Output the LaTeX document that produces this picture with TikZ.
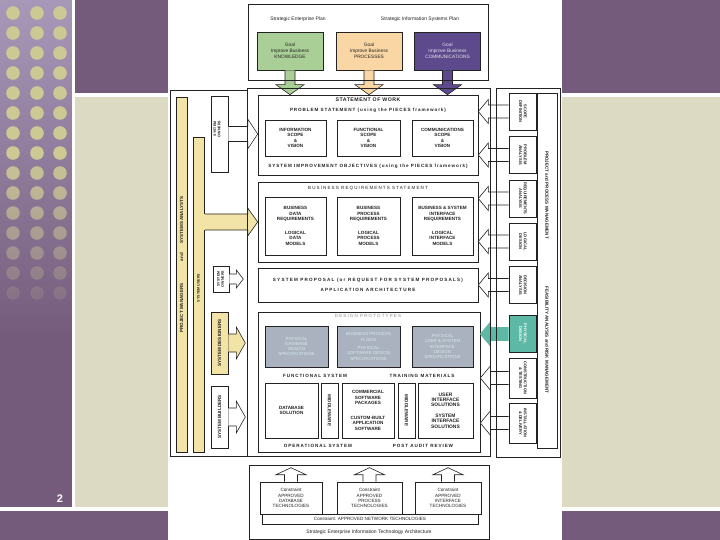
\documentclass[tikz,border=0pt]{standalone}
\usepackage{fontspec}
\setmainfont{Liberation Sans}
\usetikzlibrary{calc}
\definecolor{ink}{HTML}{222222}
\definecolor{slidepurple}{HTML}{745B7B}
\definecolor{slidebeige}{HTML}{DDDAC3}
\definecolor{striptop}{HTML}{A898B8}
\definecolor{dotkhaki}{HTML}{CDC995}
\definecolor{goalgreen}{HTML}{A9CF97}
\definecolor{goalorange}{HTML}{FAD6A5}
\definecolor{goalpurple}{HTML}{5D4A8C}
\definecolor{roleyellow}{HTML}{F2E4A6}
\definecolor{phaseteal}{HTML}{5DB8A5}
\definecolor{protogray}{HTML}{A9B2BE}
\definecolor{prototext}{HTML}{D9E9ED}

% block arrow: [style]{from}{to}{half shaft}{half head}{head length}
\newcommand\blockarrow[6][]{%
  \coordinate (ba-h) at ($(#3)!#6!(#2)$);
  \path[#1] ($(#2)!#4!90:(#3)$) -- ($(ba-h)!#4!-90:(#2)$)
    -- ($(ba-h)!#5!-90:(#2)$) -- (#3) -- ($(ba-h)!#5!90:(#2)$)
    -- ($(ba-h)!#4!90:(#2)$) -- ($(#2)!#4!-90:(#3)$);}
\newcommand\vlabel[2]{\rotatebox{#1}{\begin{tabular}{@{}c@{}}#2\end{tabular}}}

\begin{document}
\begin{tikzpicture}[x=1pt,y=-1pt,line width=0.6pt,text=ink,
  font=\fontsize{5}{5.8}\selectfont,
  frame/.style={draw=ink,line width=0.7pt},
  box/.style={draw=ink,fill=white,inner sep=0pt,align=center,
    font=\bfseries\fontsize{4.6}{5.6}\selectfont},
  goal/.style={box,font=\fontsize{4.8}{5.8}\selectfont,minimum width=66pt,minimum height=38pt},
  sub/.style={box,minimum height=36pt},
  proto/.style={box,fill=protogray,text=prototext,font=\fontsize{4.4}{5.3}\selectfont,
    minimum height=41pt},
  phase/.style={box,font=\bfseries\fontsize{4}{4.9}\selectfont,minimum width=27pt,minimum height=37pt},
  role/.style={box,fill=roleyellow},
  spaced/.style={font=\fontsize{4.5}{5}\selectfont\addfontfeature{LetterSpace=25}},
  spacedbf/.style={font=\bfseries\fontsize{4.6}{5}\selectfont\addfontfeature{LetterSpace=20}},
  vtext/.style={font=\bfseries\fontsize{4.5}{5}\selectfont},
  hollow/.style={draw=ink,fill=white,line width=0.6pt}]
  \useasboundingbox (0,0) rectangle (720,540);

  % slide background
  \fill[slidepurple] (0,0) rectangle (720,540);
  \shade[top color=striptop,bottom color=slidepurple] (0,0) rectangle (72,340);
  \foreach \row in {0,...,14}{
    \pgfmathsetmacro\dotop{\row<8 ? 1 : 1-(\row-7)*0.12}
    \foreach \col in {13,37,60}
      \fill[dotkhaki,opacity=\dotop] (\col,{13+20*\row}) circle (6.8);
  }
  \fill[white] (72,0) rectangle (75,507);
  \fill[white] (75,93) rectangle (720,97);
  \fill[slidebeige] (75,97) rectangle (720,507);
  \fill[white] (0,507) rectangle (720,511);
  \node[text=white,font=\bfseries\fontsize{11}{11}\selectfont] (slideNo) at (60,499) {2};
  \fill[white] (168,0) rectangle (562,540);

  % plans and goals
  \node (entPlan) at (298,19) {Strategic Enterprise Plan};
  \node (isPlan) at (420,19) {Strategic Information Systems Plan};
  \node[goal,fill=goalgreen] (goalKnow) at (290,51) {Goal\\Improve Business\\KNOWLEDGE};
  \node[goal,fill=goalorange] (goalProc) at (369,51) {Goal\\Improve Business\\PROCESSES};
  \node[goal,fill=goalpurple,text=white!85!goalpurple] (goalComm) at (447.5,51)
    {Goal\\Improve Business\\COMMUNICATIONS};

  % statement of work
  \node[box,minimum width=220pt,minimum height=80pt] (sow) at (368,135) {};
  \node[font=\bfseries\fontsize{5.2}{6}\selectfont\addfontfeature{LetterSpace=10}] (sowTitle)
    at (368,100) {STATEMENT OF WORK};
  \node[spacedbf] (probStmt) at (368,110) {PROBLEM STATEMENT (using the PIECES framework)};
  \node[sub,minimum width=61pt] (infoScope) at (295.5,138) {INFORMATION\\SCOPE\\\&\\VISION};
  \node[sub,minimum width=63pt] (funcScope) at (368.5,138) {FUNCTIONAL\\SCOPE\\\&\\VISION};
  \node[sub,minimum width=61pt] (commScope) at (442.5,138) {COMMUNICATIONS\\SCOPE\\\&\\VISION};
  \node[spacedbf] (sysObj) at (368,166) {SYSTEM IMPROVEMENT OBJECTIVES (using the PIECES framework)};

  % business requirements
  \node[box,minimum width=220pt,minimum height=80pt] (brs) at (368,222) {};
  \node[spaced] (brsTitle) at (368,188) {BUSINESS REQUIREMENTS STATEMENT};
  \node[sub,minimum width=61pt,minimum height=58pt] (dataReq) at (295.5,226)
    {BUSINESS\\DATA\\REQUIREMENTS\\[8pt]LOGICAL\\DATA\\MODELS};
  \node[sub,minimum width=63pt,minimum height=58pt] (procReq) at (368.5,226)
    {BUSINESS\\PROCESS\\REQUIREMENTS\\[8pt]LOGICAL\\PROCESS\\MODELS};
  \node[sub,minimum width=61pt,minimum height=58pt] (ifaceReq) at (442.5,226)
    {BUSINESS \& SYSTEM\\INTERFACE\\REQUIREMENTS\\[8pt]LOGICAL\\INTERFACE\\MODELS};

  % proposal
  \node[box,minimum width=220pt,minimum height=34pt,
        font=\bfseries\fontsize{4.6}{10}\selectfont\addfontfeature{LetterSpace=26}] (proposal)
    at (368,285) {SYSTEM PROPOSAL (or REQUEST FOR SYSTEM PROPOSALS)\\APPLICATION ARCHITECTURE};

  % design and construction
  \node[box,minimum width=222pt,minimum height=140pt] (design) at (369,382) {};
  \node[spaced,text=black!45] (protoTitle) at (368,316) {DESIGN PROTOTYPES};
  \node[proto,minimum width=63pt] (dbSpec) at (296.5,346.5)
    {PHYSICAL\\DATABASE\\DESIGN\\SPECIFICATIONS};
  \node[proto,minimum width=63pt] (swSpec) at (368.5,346.5)
    {BUSINESS PROCESS\\FLOWS\\[3pt]PHYSICAL\\SOFTWARE DESIGN\\SPECIFICATIONS};
  \node[proto,minimum width=61pt] (uiSpec) at (442.5,346.5)
    {PHYSICAL\\USER \& SYSTEM\\INTERFACE\\DESIGN\\SPECIFICATIONS};
  \node[spacedbf] (funcSys) at (315,376) {FUNCTIONAL SYSTEM};
  \node[spacedbf] (training) at (422,376) {TRAINING MATERIALS};
  \node[box,minimum width=53pt,minimum height=55pt] (dbSol) at (291.5,410.5) {DATABASE\\SOLUTION};
  \node[box,minimum width=17pt,minimum height=55pt] (mwLeft) at (329.5,410.5) {\rotatebox{-90}{MIDDLEWARE}};
  \node[box,minimum width=52pt,minimum height=55pt] (appSw) at (368,410.5)
    {COMMERCIAL\\SOFTWARE\\PACKAGES\\[9pt]CUSTOM-BUILT\\APPLICATION\\SOFTWARE};
  \node[box,minimum width=17pt,minimum height=55pt] (mwRight) at (406.5,410.5) {\rotatebox{-90}{MIDDLEWARE}};
  \node[box,minimum width=55pt,minimum height=55pt,font=\bfseries\fontsize{4.9}{5.4}\selectfont] (uiSol)
    at (445.5,410.5) {USER\\INTERFACE\\SOLUTIONS\\[5pt]SYSTEM\\INTERFACE\\SOLUTIONS};
  \node[spacedbf] (opSys) at (318,446) {OPERATIONAL SYSTEM};
  \node[spacedbf] (postAudit) at (423,446) {POST AUDIT REVIEW};

  % architecture
  \node[box,minimum width=240pt,minimum height=74pt] (eita) at (369,502) {};
  \node[box,minimum width=62pt,minimum height=32pt,font=\fontsize{4.6}{5.2}\selectfont] (dbTech)
    at (291,498) {Constraint\\APPROVED\\DATABASE\\TECHNOLOGIES};
  \node[box,minimum width=65pt,minimum height=32pt,font=\fontsize{4.6}{5.2}\selectfont] (procTech)
    at (369.5,498) {Constraint\\APPROVED\\PROCESS\\TECHNOLOGIES};
  \node[box,minimum width=66pt,minimum height=32pt,font=\fontsize{4.6}{5.2}\selectfont] (ifTech)
    at (448,498) {Constraint\\APPROVED\\INTERFACE\\TECHNOLOGIES};
  \node[box,minimum width=216pt,minimum height=10pt,font=\fontsize{4.6}{5.2}\selectfont] (netTech)
    at (370,519) {Constraint: APPROVED NETWORK TECHNOLOGIES};
  \node (eitaLabel) at (369,532) {Strategic Enterprise Information Technology Architecture};

  % people
  \node[role,minimum width=11pt,minimum height=355pt] (mgrBar) at (181.5,274.5) {};
  \node[role,minimum width=11pt,minimum height=315pt] (userBar) at (198.5,294.5) {};
  \node[vtext,rotate=90] (mgrText) at (181.5,308) {PROJECT MANAGERS};
  \node[vtext,rotate=90] (andText) at (181.5,257) {and};
  \node[vtext,rotate=90] (anaText) at (181.5,220) {SYSTEMS ANALYSTS};
  \node[vtext,rotate=90,font=\bfseries\fontsize{3.6}{4}\selectfont] (userText) at (198.5,288) {SYSTEM USERS};
  \node[box,minimum width=17pt,minimum height=76pt] (owners) at (219.5,134) {};
  \node[rotate=90,align=center,font=\bfseries\fontsize{3.6}{4.2}\selectfont] (ownersText)
    at (217,129) {SYSTEM\\OWNERS};
  \node[box,minimum width=16pt,minimum height=26pt,font=\bfseries\fontsize{3.6}{4.2}\selectfont] (ownersSmall)
    at (221,279) {\vlabel{90}{SYSTEM\\OWNERS}};
  \node[role,minimum width=17pt,minimum height=62pt] (designers) at (219.5,343) {\rotatebox{90}{SYSTEM DESIGNERS}};
  \node[box,minimum width=17pt,minimum height=62pt] (builders) at (219.5,417) {\rotatebox{90}{SYSTEM BUILDERS}};

  % phases
  \node[phase] (scopeDef) at (522.5,111.5) {\vlabel{-90}{SCOPE\\DEFINITION}};
  \node[phase] (probAn) at (522.5,155) {\vlabel{-90}{PROBLEM\\ANALYSIS}};
  \node[phase] (reqAn) at (522.5,198.5) {\vlabel{-90}{REQUIREMENTS\\ANALYSIS}};
  \node[phase] (logDes) at (522.5,241.5) {\vlabel{-90}{LOGICAL\\DESIGN}};
  \node[phase] (decAn) at (522.5,285) {\vlabel{-90}{DECISION\\ANALYSIS}};
  \node[phase,fill=phaseteal,text=white] (physDes) at (522.5,334) {\vlabel{-90}{PHYSICAL\\DESIGN}};
  \node[phase,minimum height=40pt] (construct) at (522.5,378) {\vlabel{-90}{CONSTRUCTION\\\& TESTING}};
  \node[phase,minimum height=40pt] (install) at (522.5,423) {\vlabel{-90}{INSTALLATION\\\& DELIVERY}};
  \node[box,minimum width=20pt,minimum height=355pt] (mgmt) at (547,270.5) {};
  \node[vtext,rotate=-90] (mgmtTop) at (547,195) {PROJECT and PROCESS MANAGEMENT};
  \node[vtext,rotate=-90] (mgmtBottom) at (547,340) {FEASIBILITY ANALYSIS and RISK MANAGEMENT};

  % goal arrows
  \coordinate (goalKnowTip) at (goalKnow.south |- sow.north);
  \coordinate (goalProcTip) at (goalProc.south |- sow.north);
  \coordinate (goalCommTip) at (goalComm.south |- sow.north);
  \blockarrow[fill=goalgreen,draw=ink]{goalKnow.south}{goalKnowTip}{5pt}{14pt}{10pt}
  \blockarrow[fill=goalorange,draw=ink]{goalProc.south}{goalProcTip}{5pt}{14pt}{10pt}
  \blockarrow[fill=goalpurple,draw=ink]{goalComm.south}{goalCommTip}{5pt}{14pt}{10pt}

  % people arrows
  \coordinate (ownersTip) at (owners.east -| sow.west);
  \blockarrow[hollow]{owners.east}{ownersTip}{7.5pt}{15pt}{10pt}
  \coordinate (userFoot) at (userBar.east |- brs.west);
  \blockarrow[fill=roleyellow,draw=ink]{userFoot}{brs.west}{8pt}{14pt}{10pt}
  \fill[roleyellow] ($(userFoot)+(-0.6,-7.6)$) rectangle ($(userFoot)+(0.6,7.6)$);
  \coordinate (ownersSmallTip) at ($(ownersSmall.east)+(14,0)$);
  \blockarrow[hollow]{ownersSmall.east}{ownersSmallTip}{5pt}{9pt}{7pt}
  \coordinate (designersTip) at ($(designers.east)+(17,0)$);
  \blockarrow[fill=roleyellow,draw=ink]{designers.east}{designersTip}{9pt}{16pt}{9pt}
  \coordinate (buildersTip) at ($(builders.east)+(17,0)$);
  \blockarrow[hollow]{builders.east}{buildersTip}{9pt}{16pt}{9pt}

  % phase arrows
  \coordinate (scopeTip) at (scopeDef.west -| sow.east);
  \coordinate (probTip) at (probAn.west -| sow.east);
  \coordinate (reqTip) at (reqAn.west -| brs.east);
  \coordinate (logTip) at (logDes.west -| brs.east);
  \coordinate (decTip) at (decAn.west -| proposal.east);
  \coordinate (physTip) at (physDes.west -| design.east);
  \coordinate (constructTip) at (construct.west -| design.east);
  \coordinate (installTip) at (install.west -| design.east);
  \blockarrow[hollow]{scopeDef.west}{scopeTip}{6.5pt}{12pt}{10pt}
  \blockarrow[hollow]{probAn.west}{probTip}{6.5pt}{12pt}{10pt}
  \blockarrow[hollow]{reqAn.west}{reqTip}{6.5pt}{12pt}{10pt}
  \blockarrow[hollow]{logDes.west}{logTip}{6.5pt}{12pt}{10pt}
  \blockarrow[hollow]{decAn.west}{decTip}{6.5pt}{12pt}{10pt}
  \blockarrow[fill=phaseteal,draw=phaseteal]{physDes.west}{physTip}{6.5pt}{12pt}{10pt}
  \blockarrow[hollow]{construct.west}{constructTip}{6.5pt}{12pt}{10pt}
  \blockarrow[hollow]{install.west}{installTip}{6.5pt}{12pt}{10pt}

  % architecture arrows
  \coordinate (dbTechTip) at ($(dbTech.north |- eita.north)+(0,3)$);
  \coordinate (procTechTip) at ($(procTech.north |- eita.north)+(0,3)$);
  \coordinate (ifTechTip) at ($(ifTech.north |- eita.north)+(0,3)$);
  \blockarrow[hollow]{dbTech.north}{dbTechTip}{6.5pt}{15pt}{7pt}
  \blockarrow[hollow]{procTech.north}{procTechTip}{6.5pt}{15pt}{7pt}
  \blockarrow[hollow]{ifTech.north}{ifTechTip}{6.5pt}{15pt}{7pt}

  % frames
  \draw[frame] (248,4) rectangle (488,80);
  \draw[frame] (170,90) rectangle (247,456);
  \draw[frame] (247,88) rectangle (490,456);
  \draw[frame] (496,88) rectangle (560,457);
\end{tikzpicture}
\end{document}
